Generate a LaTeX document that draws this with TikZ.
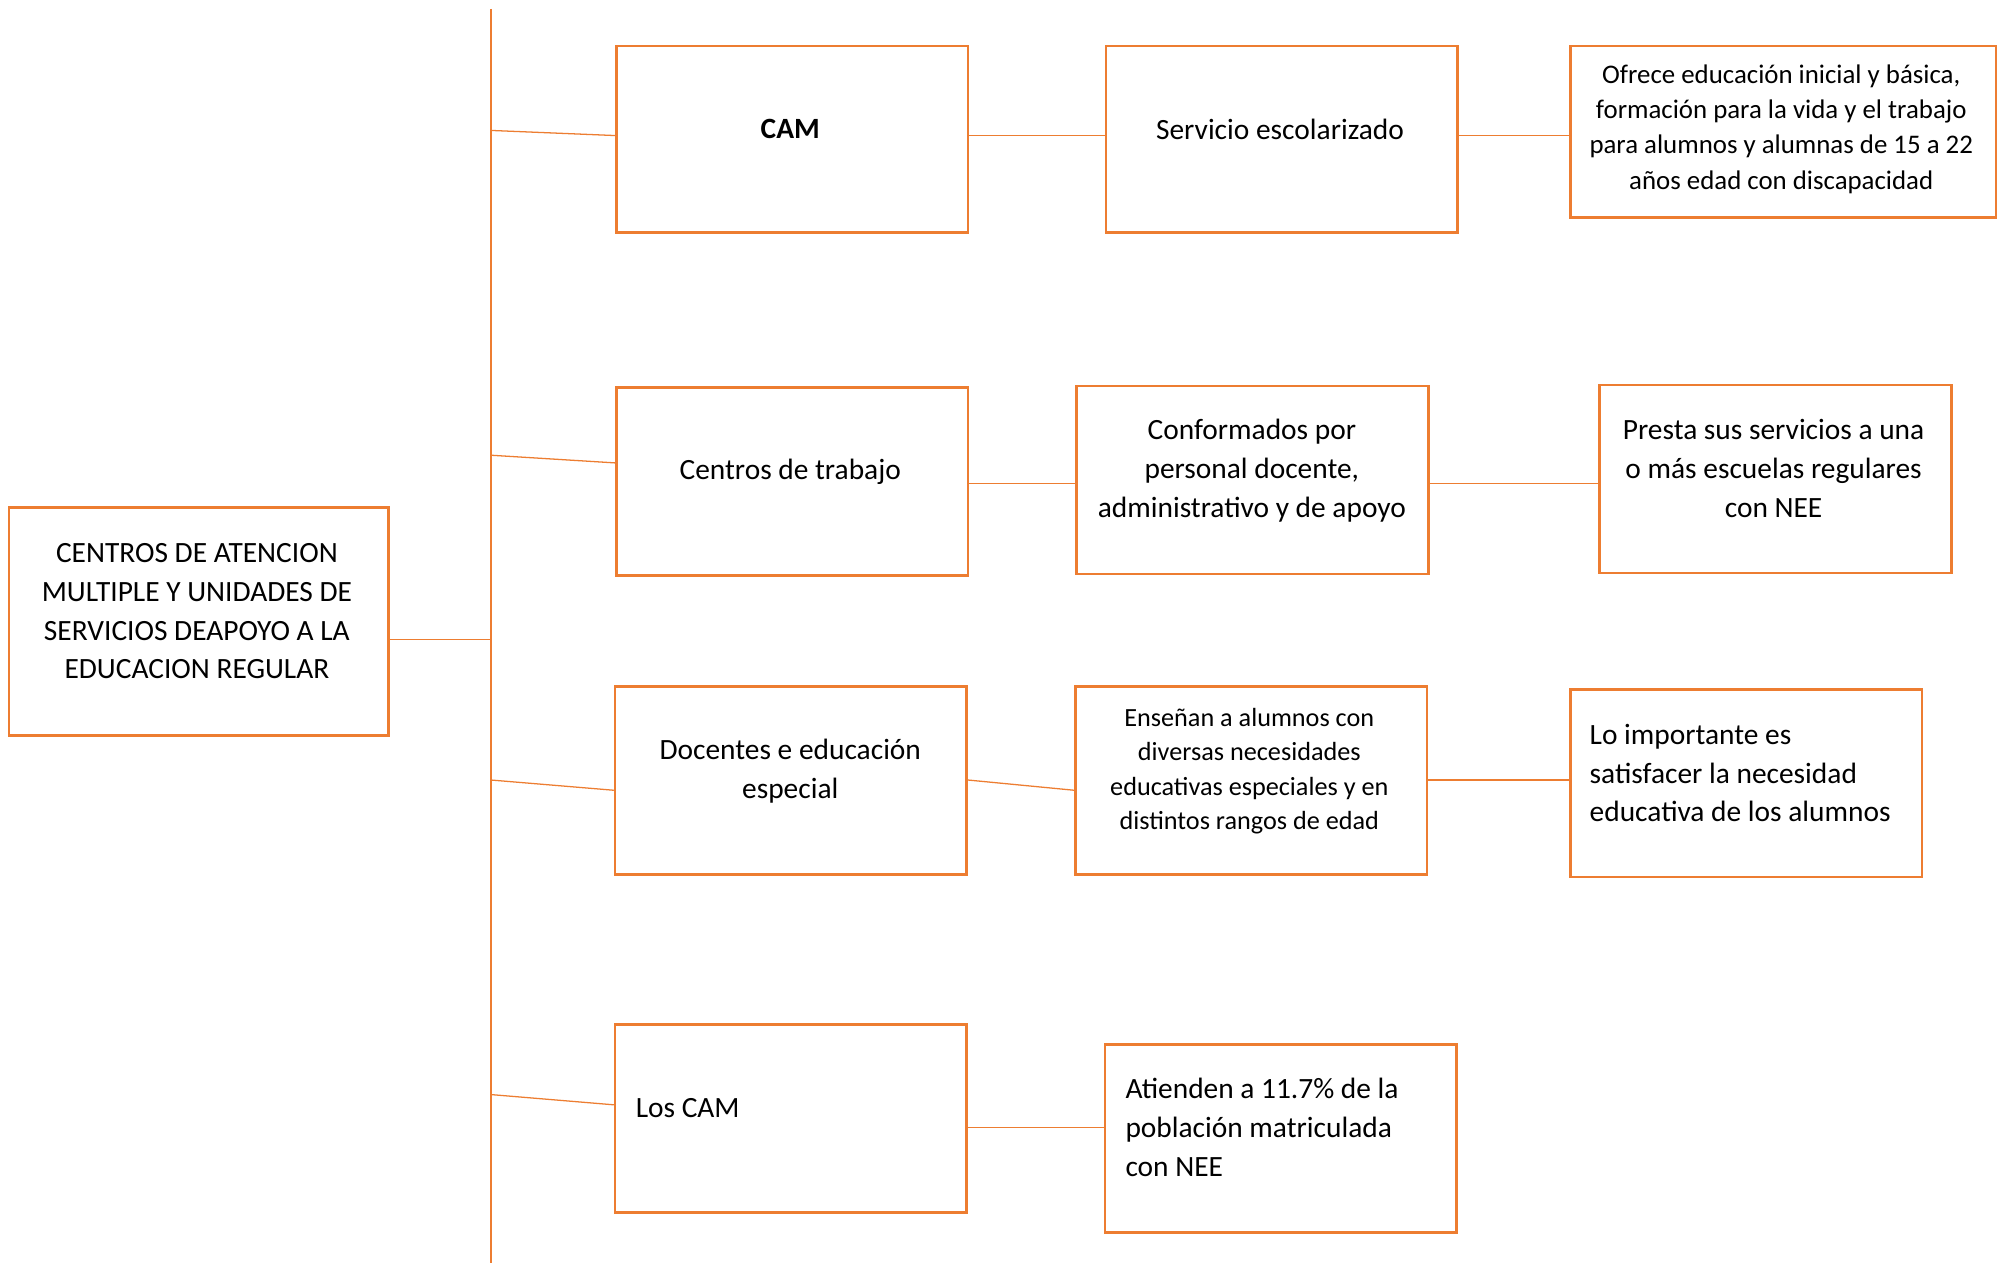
\documentclass[tikz,border=0pt]{standalone}
\usepackage{fontspec}
\setmainfont{Carlito}
\usetikzlibrary{calc}
\definecolor{org}{HTML}{ED7D31}
\tikzset{
  box/.style={draw=org, line width=2pt, rectangle, inner sep=0pt, anchor=north west, fill=white},
  conn/.style={draw=org, line width=1pt},
  txt/.style={inner sep=0pt, align=center, font=\fontsize{23}{30.3}\selectfont},
  txts/.style={inner sep=0pt, align=center, font=\fontsize{21}{27.5}\selectfont},
  txtl/.style={inner sep=0pt, align=left, font=\fontsize{23}{30.3}\selectfont},
}
\begin{document}
\begin{tikzpicture}[x=1pt,y=-1pt]
\useasboundingbox (0,0) rectangle (1568,989);
\fill[white] (0,0) rectangle (1568,989);

% spine
\coordinate (vtop) at (384,7);
\coordinate (vbot) at (384,988);
\coordinate (v1) at (384,102);
\coordinate (v2) at (384,356);
\coordinate (v3) at (384,610);
\coordinate (v4) at (384,856);
\coordinate (v0) at (384,500);

% boxes
\node[box, minimum width=297pt, minimum height=178pt] (root) at (6,396) {};
\node[box, minimum width=275pt, minimum height=146pt] (cam) at (481,35) {};
\node[box, minimum width=275pt, minimum height=147pt] (cen) at (481,302) {};
\node[box, minimum width=275pt, minimum height=147pt] (doc) at (480,536) {};
\node[box, minimum width=275pt, minimum height=147pt] (los) at (480,800) {};
\node[box, minimum width=275pt, minimum height=146pt] (ser) at (864,35) {};
\node[box, minimum width=275pt, minimum height=147pt] (con) at (841,301) {};
\node[box, minimum width=275pt, minimum height=147pt] (ens) at (840,536) {};
\node[box, minimum width=275pt, minimum height=147pt] (ati) at (863,816) {};
\node[box, minimum width=333pt, minimum height=134pt] (ofr) at (1227,35) {};
\node[box, minimum width=275pt, minimum height=147pt] (pre) at (1250,300) {};
\node[box, minimum width=275pt, minimum height=147pt] (loi) at (1227,538) {};

% texts
\node[txt] (roott) at (154,478) {CENTROS DE ATENCION\\MULTIPLE Y UNIDADES DE\\SERVICIOS DEAPOYO A LA\\EDUCACION REGULAR};
\node[txt, font=\fontsize{23}{30.3}\selectfont\bfseries] (camt) at (618,101) {CAM};
\node[txt] (sert) at (1001,101) {Servicio escolarizado};
\node[txts] (ofrt) at (1393,101) {Ofrece educación inicial y básica,\\formación para la vida y el trabajo\\para alumnos y alumnas de 15 a 22\\años edad con discapacidad};
\node[txt] (cent) at (618,369) {Centros de trabajo};
\node[txt] (cont) at (979,368) {Conformados por\\personal docente,\\administrativo y de apoyo};
\node[txt] (pret) at (1387,366.5) {Presta sus servicios a una\\o más escuelas regulares\\con NEE};
\node[txt] (doct) at (618,603) {Docentes e educación\\especial};
\node[txts, font=\fontsize{20.5}{27}\selectfont] (enst) at (977,603) {Enseñan a alumnos con\\diversas necesidades\\educativas especiales y en\\distintos rangos de edad};
\node[txtl, anchor=west] (loit) at (1243,604.5) {Lo importante es\\satisfacer la necesidad\\educativa de los alumnos};
\node[txtl, anchor=west] (lost) at (497,866.5) {Los CAM};
\node[txtl, anchor=west] (atit) at (880,881.5) {Atienden a 11.7\% de la\\población matriculada\\con NEE};

% connectors
\draw[conn] (vtop) -- (vbot);
\draw[conn] (root.east |- v0) -- (v0);
\draw[conn] (v1) -- ([yshift=3pt]cam.west);
\draw[conn] (v2) -- ([yshift=14.5pt]cen.west);
\draw[conn] (v3) -- ([yshift=-7.5pt]doc.west);
\draw[conn] (v4) -- ([yshift=10.5pt]los.west);
\draw[conn] ([yshift=3pt]cam.east) -- ([yshift=3pt]ser.west);
\draw[conn] ([yshift=-1.5pt]cen.east) -- ([yshift=-2.5pt]con.west);
\draw[conn] ([yshift=0.5pt]doc.east) -- ([yshift=-7.5pt]ens.west);
\draw[conn] ([yshift=-7.5pt]los.east) -- ([yshift=8.5pt]ati.west);
\draw[conn] ([yshift=3pt]ser.east) -- ([yshift=-3pt]ofr.west);
\draw[conn] ([yshift=-2.5pt]con.east) -- ([yshift=-3.5pt]pre.west);
\draw[conn] ([yshift=0.5pt]ens.east) -- ([yshift=2.5pt]loi.west);
\end{tikzpicture}
\end{document}
